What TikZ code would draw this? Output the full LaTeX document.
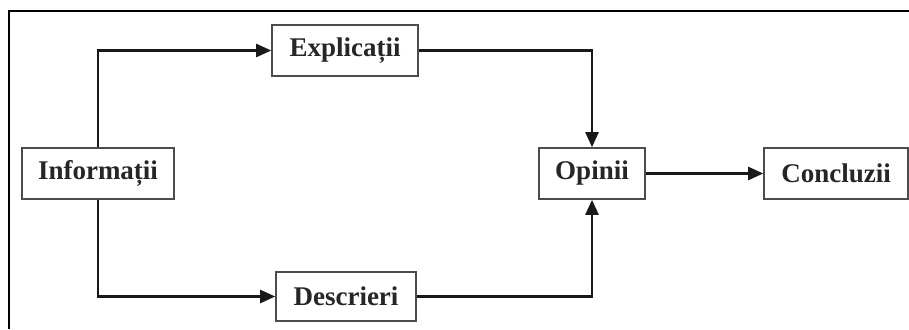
\documentclass[tikz,border=0pt]{standalone}
\usepackage{fontspec}
\setmainfont{Liberation Serif}
\usetikzlibrary{arrows.meta}
\begin{document}
\begin{tikzpicture}[x=1pt,y=-1pt,
  box/.style={draw=black!70,line width=1.6pt,fill=white,inner sep=0pt,
    font=\fontsize{27}{30}\selectfont\bfseries,text=black!85},
  link/.style={draw=black!90,line width=2.4pt,-{Triangle[length=15pt,width=13pt]}},
  plain/.style={draw=black!90,line width=2.4pt}]
  \useasboundingbox (0,0) rectangle (909,329);
  % outer frame (top and left edges)
  \draw[line width=2.6pt] (9,329) -- (9,11) -- (909,11);
  % boxes
  \node[box,minimum width=152pt,minimum height=51pt] (info) at (98,173.5) {Informații};
  \node[box,minimum width=146pt,minimum height=51pt] (expl) at (345,50.5) {Explicații};
  \node[box,minimum width=140pt,minimum height=49pt] (desc) at (346,296.5) {Descrieri};
  \node[box,minimum width=106pt,minimum height=51pt] (opin) at (592,173.5) {Opinii};
  \node[box,minimum width=144pt,minimum height=51pt] (conc) at (836,173.5) {Concluzii};
  % connectors
  \draw[link] (info.north) |- (expl.west);
  \draw[link] (info.south) |- (desc.west);
  \draw[link] (expl.east) -| (opin.north);
  \draw[link] (desc.east) -| (opin.south);
  \draw[link] (opin.east) -- (conc.west);
\end{tikzpicture}
\end{document}
